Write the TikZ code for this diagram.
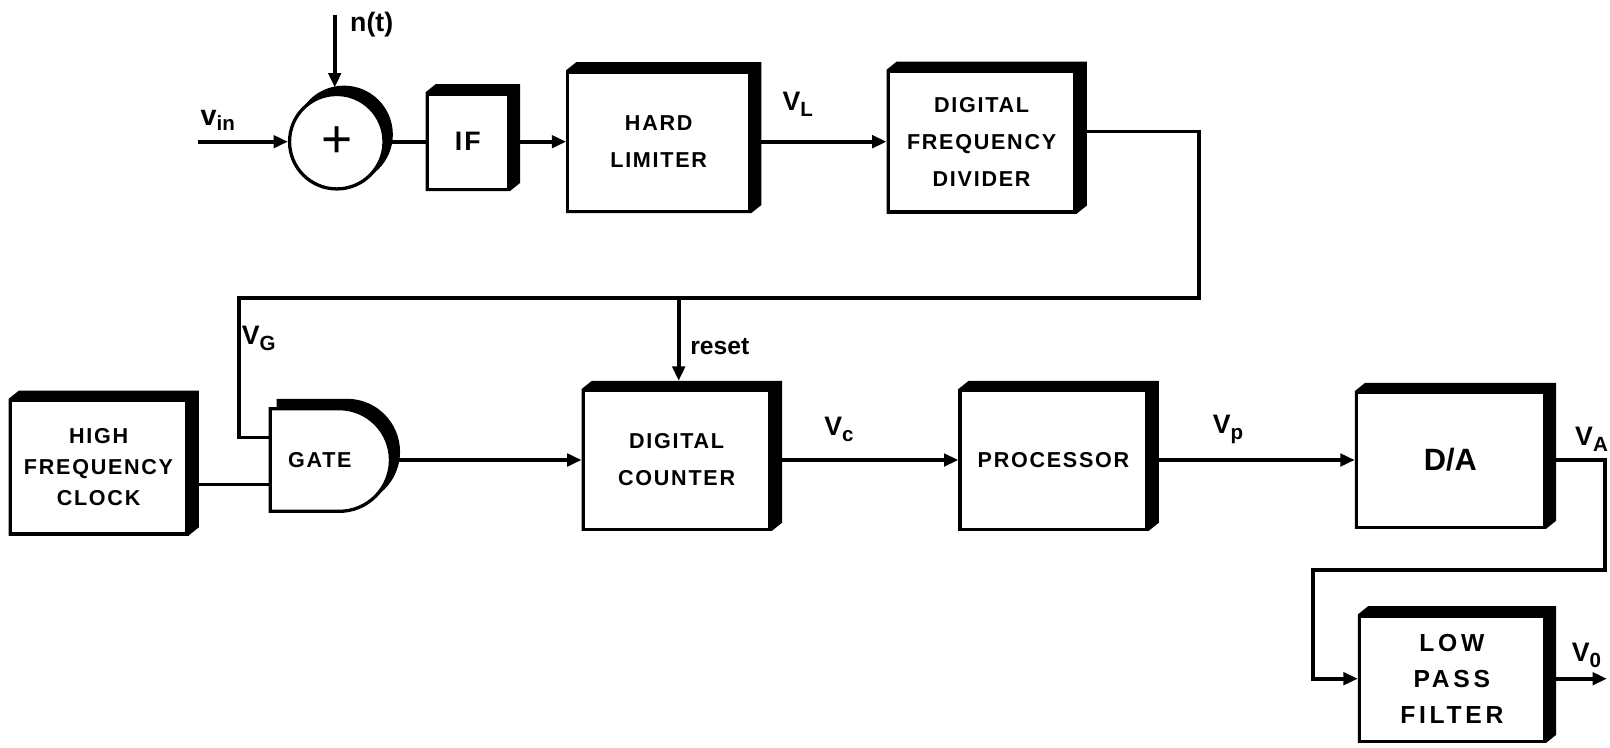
\documentclass[tikz,border=0pt]{standalone}
\usepackage{fontspec}
\setmainfont{Liberation Sans}
\newfontfamily\lbl[LetterSpace=8]{Liberation Sans}
\newfontfamily\lblwide[LetterSpace=15]{Liberation Sans}
\usetikzlibrary{arrows.meta,backgrounds,shapes.misc}
\newcommand\sig[2]{{\fontsize{13}{13}\selectfont #1}\raisebox{-0.55ex}{\fontsize{10}{10}\selectfont #2}}
\begin{document}
\begin{tikzpicture}[x=0.5pt,y=-0.5pt,
  wire/.style={line width=1.8pt},
  arr/.style={-{Triangle[length=7pt,width=6pt]}},
  blk/.style={draw,line width=1.6pt,fill=white,inner sep=0pt,align=center,
    font=\lbl\bfseries\fontsize{10.5}{18}\selectfont},
  gateshape/.style={rounded rectangle,rounded rectangle left arc=none,draw,line width=1.6pt,
    minimum width=58.5pt,minimum height=50pt,inner sep=0pt},
  lab/.style={inner sep=0pt,font=\bfseries}
]
\useasboundingbox (0,0) rectangle (1568,728);

% blocks
\node[circle,draw,line width=1.6pt,fill=white,minimum size=46pt,inner sep=0pt] (sum) at (328,138) {\fontsize{26}{26}\selectfont +};
\node[blk,minimum width=39.5pt,minimum height=46.5pt] (if) at (455.5,138) {\fontsize{13}{13}\selectfont IF};
\node[blk,minimum width=88.5pt,minimum height=68pt] (hl) at (641.5,138) {HARD\\LIMITER};
\node[blk,minimum width=91pt,minimum height=68.5pt] (dfd) at (956,138) {DIGITAL\\FREQUENCY\\DIVIDER};
\node[blk,minimum width=86pt,minimum height=65pt,font=\lbl\bfseries\fontsize{10.5}{15}\selectfont] (hfc) at (96,455) {HIGH\\FREQUENCY\\CLOCK};
\node[gateshape,fill=white,font=\lbl\bfseries\fontsize{10.5}{12}\selectfont] (gate) at (321.5,448) {GATE\hspace*{10pt}};
\node[blk,minimum width=91pt,minimum height=67.5pt] (dc) at (659,448) {DIGITAL\\COUNTER};
\node[blk,minimum width=91pt,minimum height=67.5pt] (proc) at (1026,448) {PROCESSOR};
\node[blk,minimum width=91.5pt,minimum height=65.5pt,font=\bfseries\fontsize{15}{15}\selectfont] (da) at (1412.5,448) {D/A};
\node[blk,minimum width=90pt,minimum height=61pt,font=\lblwide\bfseries\fontsize{12}{17.5}\selectfont] (lpf) at (1414,661) {LOW\\PASS\\FILTER};

% shadows
\begin{scope}[on background layer]
  \foreach \n in {if,hl,dfd,hfc,dc,proc,da,lpf}
    \fill (\n.south west) -- (\n.north west) -- ([shift={(10,-8)}]\n.north west)
      -- ([shift={(10,-8)}]\n.north east) -- ([shift={(10,-8)}]\n.south east)
      -- (\n.south east) -- cycle;
  \fill ([shift={(7,-7)}]sum.center) circle[radius=23.8pt];
  \node[gateshape,fill=black] (gatesh) at ([shift={(8,-8)}]gate.center) {};
\end{scope}

% coordinates
\coordinate (vin) at (193,138);
\coordinate (nt) at (326,15);
\coordinate (sumtop) at ([yshift=2.6pt]sum.north);
\coordinate (tr) at (1168,290);
\coordinate (tl) at (233,290);
\coordinate (rs) at (661,290);
\coordinate (dctop) at ([yshift=4pt]dc.north);
\coordinate (g1) at ([yshift=11pt]gate.west);
\coordinate (g2) at ([yshift=-12pt]gate.west);
\coordinate (ar) at (1563,555);
\coordinate (al) at (1279,555);
\coordinate (vo) at (1565,661);

% connectors
\draw[wire,arr] (vin) -- (sum.west);
\draw[wire,arr] (nt) -- (nt |- sumtop);
\draw[wire] (sum.east) -- (if.west);
\draw[wire,arr] (if.east) -- (if.east -| hl.west);
\draw[wire,arr] (hl.east) -- (hl.east -| dfd.west);
\draw[wire] ([yshift=5pt]dfd.east) -| (tr) -- (tl) |- (g1);
\draw[wire,arr] (rs) -- (rs |- dctop);
\draw[wire] (hfc.east |- g2) -- (g2);
\draw[wire,arr] (gate.east) -- (gate.east -| dc.west);
\draw[wire,arr] (dc.east) -- (proc.west);
\draw[wire,arr] (proc.east) -- (da.west);
\draw[wire,arr] (da.east) -| (ar) -- (al) |- (lpf.west);
\draw[wire,arr] (lpf.east) -- (vo);

% labels
\node[lab] (lvin) at (212,117) {{\fontsize{14}{14}\selectfont v}\raisebox{-0.45ex}{\fontsize{10}{10}\selectfont in}};
\node[lab,font=\bfseries\fontsize{13}{13}\selectfont] (lnt) at (362,24) {n(t)};
\node[lab] (lvl) at (777,102) {\sig{V}{L}};
\node[lab] (lvg) at (252,330) {\sig{V}{G}};
\node[lab,font=\bfseries\fontsize{12}{12}\selectfont] (lreset) at (701,338) {reset};
\node[lab] (lvc) at (817,418) {\sig{V}{c}};
\node[lab] (lvp) at (1196,418) {\sig{V}{p}};
\node[lab] (lva) at (1550,428) {\sig{V}{A}};
\node[lab] (lvo) at (1545,638) {\sig{V}{0}};
\end{tikzpicture}
\end{document}
